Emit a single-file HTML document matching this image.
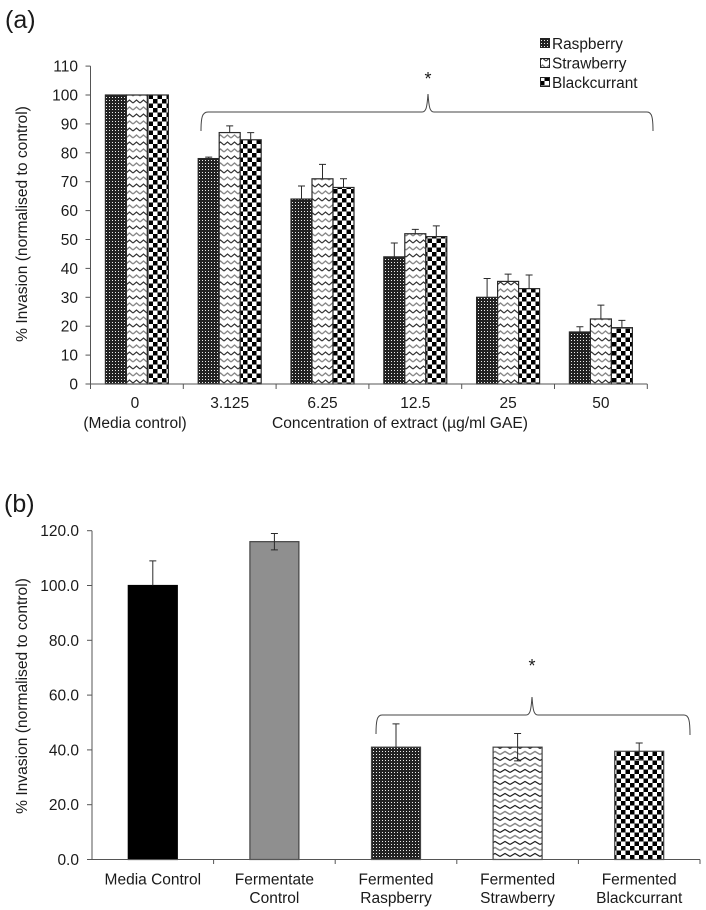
<!DOCTYPE html>
<html lang="en">
<head>
<meta charset="utf-8">
<title>Invasion charts</title>
<style>
html,body{margin:0;padding:0;background:#fff;width:706px;height:910px;overflow:hidden}
svg{display:block}
text{font-family:"Liberation Sans",sans-serif;fill:#1a1a1a}
</style>
</head>
<body>
<svg id="fig" width="706" height="910" viewBox="0 0 706 910" xmlns="http://www.w3.org/2000/svg">
<defs>
<pattern id="dots" width="3" height="3" patternUnits="userSpaceOnUse">
<rect width="3" height="3" fill="#222"/>
<rect x="1" y="1" width="1" height="1" fill="#eee"/>
</pattern>
<pattern id="zig" width="7" height="14" patternUnits="userSpaceOnUse">
<rect width="7" height="14" fill="#fff"/>
<path d="M0 5L3.5 2L7 5" fill="none" stroke="#333" stroke-width="1.2"/>
<path d="M0 12L3.5 9L7 12" fill="none" stroke="#888" stroke-width="1.4"/>
</pattern>
<pattern id="zigb" width="10" height="12" patternUnits="userSpaceOnUse">
<rect width="10" height="12" fill="#fff"/>
<path d="M0 4.5L5 1.5L10 4.5" fill="none" stroke="#222" stroke-width="1.2"/>
<path d="M0 10.5L5 7.5L10 10.5" fill="none" stroke="#888" stroke-width="1.4"/>
</pattern>
<pattern id="check" width="9" height="9" patternUnits="userSpaceOnUse">
<rect width="9" height="9" fill="#fff"/>
<rect width="4.5" height="4.5" fill="#000"/>
<rect x="4.5" y="4.5" width="4.5" height="4.5" fill="#000"/>
</pattern>
</defs>
<g id="panel-a"></g>
<g id="panel-b"></g>

<text x="5" y="28" font-size="25">(a)</text>
<text x="4" y="512" font-size="25">(b)</text>

<text transform="translate(27,224) rotate(-90)" text-anchor="middle" font-size="15.6">% Invasion (normalised to control)</text>
<text transform="translate(27,696) rotate(-90)" text-anchor="middle" font-size="15.6">% Invasion (normalised to control)</text>

<text x="400" y="428" text-anchor="middle" font-size="15.6">Concentration of extract (µg/ml GAE)</text>

<path d="M201 131C201 118 202 112 208 112L422 112C426 112 427 108 428 94C429 108 430 112 434 112L647 112C652 112 653 118 653 131" fill="none" stroke="#444" stroke-width="1"/>
<text x="428" y="85" text-anchor="middle" font-size="18">*</text>

<path d="M376 734C376 721 377 715 382 715L526 715C530 715 531 711 532 697C533 711 534 715 538 715L684 715C689 715 690 721 690 735" fill="none" stroke="#444" stroke-width="1"/>
<text x="532" y="672" text-anchor="middle" font-size="18">*</text>

<g>
<rect x="540.5" y="38.5" width="9" height="9" fill="url(#dots)" stroke="#222"/>
<text x="552" y="49" font-size="15.4">Raspberry</text>
<rect x="540.5" y="58.5" width="9" height="9" fill="url(#zig)" stroke="#222"/>
<text x="552" y="68.5" font-size="15.4">Strawberry</text>
<rect x="540.5" y="77.5" width="9" height="9" fill="url(#check)" stroke="#222"/>
<text x="552" y="88" font-size="15.4">Blackcurrant</text>
</g>
</svg>
<script>
const aCategories = ['0', '3.125', '6.25', '12.5', '25', '50'];
const aSeriesNames = ['raspberry', 'strawberry', 'blackcurrant'];
const aRaspberry = [100, 78, 64, 44, 30, 18];
const aStrawberry = [100, 87, 71, 52, 35.5, 22.5];
const aBlackcurrant = [100, 84.5, 68, 51, 33, 19.5];
const aRaspberryErr = [0, 0.5, 4.5, 4.8, 6.5, 1.8];
const aStrawberryErr = [0, 2.3, 5, 1.5, 2.5, 4.8];
const aBlackcurrantErr = [0, 2.5, 3, 3.7, 4.7, 2.5];
const aTicks = [0, 10, 20, 30, 40, 50, 60, 70, 80, 90, 100, 110];

const bCategories = [['Media Control'], ['Fermentate', 'Control'], ['Fermented', 'Raspberry'], ['Fermented', 'Strawberry'], ['Fermented', 'Blackcurrant']];
const bValues = [100, 116, 41, 41, 39.5];
const bErrors = [9, 3, 8.5, 5, 3];
const bTicks = [0, 20, 40, 60, 80, 100, 120];

const NS = 'http://www.w3.org/2000/svg';
const AXIS = '#555';
const FS = 15.5;

function mk(parent, tag, attrs, txt) {
  const el = document.createElementNS(NS, tag);
  for (const k in attrs) el.setAttribute(k, attrs[k]);
  if (txt !== undefined) el.textContent = txt;
  parent.appendChild(el);
  return el;
}

function drawWhisker(g, x, yTop, yBase, cap) {
  const line = mk(g, 'path', {d: 'M' + x + ' ' + yBase + 'V' + yTop + 'M' + (x - cap) + ' ' + yTop + 'H' + (x + cap), fill: 'none', stroke: '#2a2a2a', 'stroke-width': 1});
  
  
}

/* Panel a */
const ga = document.getElementById('panel-a');
const aX0 = 90.5, aCatW = 92.8, aBarW = 21;
const aY = v => 384 - v * 28.9 / 10;
const aFills = ['url(#dots)', 'url(#zig)', 'url(#check)'];
const aVals = [aRaspberry, aStrawberry, aBlackcurrant];
const aErrs = [aRaspberryErr, aStrawberryErr, aBlackcurrantErr];

aCategories.forEach((c, i) => {
  aVals.forEach((vals, s) => {
    const x = aX0 + aCatW * i + aCatW / 2 - aBarW * 1.5 + aBarW * s;
    const bar = mk(ga, 'rect', {x: x, y: aY(vals[i]), width: aBarW, height: 384 - aY(vals[i]), fill: aFills[s], stroke: '#2a2a2a', 'stroke-width': 1.2});
    
    
    if (aErrs[s][i] > 0) drawWhisker(ga, x + aBarW / 2, aY(vals[i] + aErrs[s][i]), aY(vals[i]), 3.5);
  });
  const lab = mk(ga, 'text', {x: aX0 + aCatW * i + aCatW / 2 - (i === 0 ? 2 : 0), y: 408, 'text-anchor': 'middle', 'font-size': FS}, c);
  
  
});
const mc = mk(ga, 'text', {x: 135, y: 428, 'text-anchor': 'middle', 'font-size': FS}, '(Media control)');



aTicks.forEach(t => {
  const tk = mk(ga, 'path', {d: 'M85.5 ' + aY(t) + 'H' + aX0, stroke: AXIS, 'stroke-width': 1});
  
  
  const lab = mk(ga, 'text', {x: 78, y: aY(t) + 5.5, 'text-anchor': 'end', 'font-size': FS}, String(t));
  
  
});
const aAxisY = mk(ga, 'path', {d: 'M' + aX0 + ' ' + aY(110) + 'V389', stroke: AXIS, 'stroke-width': 1, fill: 'none'});


const aAxisX = mk(ga, 'path', {d: 'M85.5 384H' + (aX0 + aCatW * aCategories.length), stroke: AXIS, 'stroke-width': 1, fill: 'none'});


for (let i = 1; i <= aCategories.length; i++) {
  const tk = mk(ga, 'path', {d: 'M' + (aX0 + aCatW * i) + ' 384V389', stroke: AXIS, 'stroke-width': 1});
  
  
}

/* Panel b */
const gb = document.getElementById('panel-b');
const bX0 = 92, bCatW = 121.6, bBarW = 49;
const bY = v => 859.5 - v * 54.8 / 20;
const bFills = ['#000', '#8f8f8f', 'url(#dots)', 'url(#zigb)', 'url(#check)'];
const bSlugs = ['media-control', 'fermentate-control', 'fermented-raspberry', 'fermented-strawberry', 'fermented-blackcurrant'];

bValues.forEach((v, i) => {
  const cx = bX0 + bCatW * i + bCatW / 2;
  const bar = mk(gb, 'rect', {x: cx - bBarW / 2, y: bY(v), width: bBarW, height: 859.5 - bY(v), fill: bFills[i], stroke: i === 0 ? '#000' : '#444', 'stroke-width': 1.2});
  
  
  drawWhisker(gb, cx, bY(v + bErrors[i]), bY(v), 3.5);
  if (i > 0) {
    const low = mk(gb, 'path', {d: 'M' + cx + ' ' + bY(v) + 'V' + bY(v - bErrors[i]) + 'M' + (cx - 3.5) + ' ' + bY(v - bErrors[i]) + 'H' + (cx + 3.5), fill: 'none', stroke: '#2a2a2a', 'stroke-width': 1});
    
    
  }
  bCategories[i].forEach((ln, j) => {
    const lab = mk(gb, 'text', {x: cx, y: 884.5 + j * 18.5, 'text-anchor': 'middle', 'font-size': FS}, ln);
    
    
  });
});

bTicks.forEach(t => {
  const tk = mk(gb, 'path', {d: 'M87 ' + bY(t) + 'H' + bX0, stroke: AXIS, 'stroke-width': 1});
  
  
  const lab = mk(gb, 'text', {x: 79, y: bY(t) + 5.5, 'text-anchor': 'end', 'font-size': FS}, t.toFixed(1));
  
  
});
const bAxisY = mk(gb, 'path', {d: 'M' + bX0 + ' ' + bY(120) + 'V859.5', stroke: AXIS, 'stroke-width': 1, fill: 'none'});


const bAxisX = mk(gb, 'path', {d: 'M87 859.5H' + (bX0 + bCatW * bValues.length), stroke: AXIS, 'stroke-width': 1, fill: 'none'});


for (let i = 1; i <= bValues.length; i++) {
  const tk = mk(gb, 'path', {d: 'M' + (bX0 + bCatW * i) + ' 859.5V864', stroke: AXIS, 'stroke-width': 1});
  
  
}
</script>
</body>
</html>
